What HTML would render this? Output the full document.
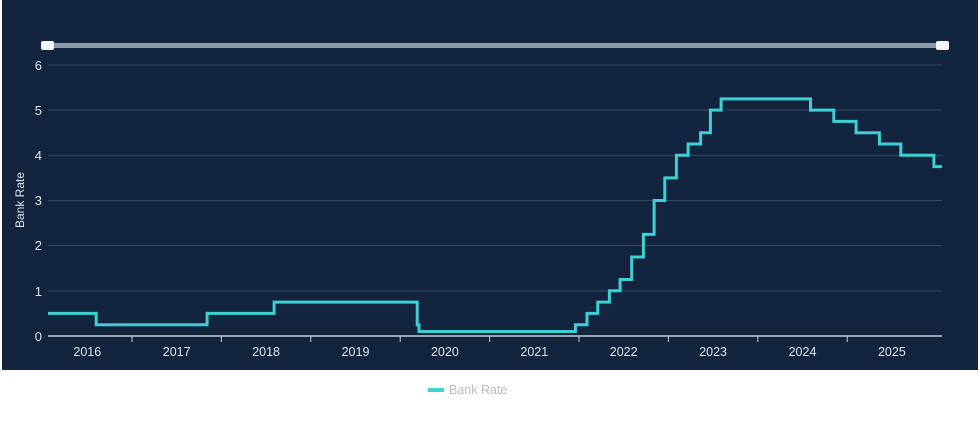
<!DOCTYPE html>
<html><head><meta charset="utf-8"><style>
body{margin:0;background:#fff;width:980px;height:419px;overflow:hidden;font-family:"Liberation Sans",sans-serif}
</style></head><body>
<svg width="980" height="419" xmlns="http://www.w3.org/2000/svg" font-family="Liberation Sans, sans-serif">
<rect x="2" y="0" width="976" height="370" fill="#13253e"/>
<rect x="48" y="43" width="894" height="5" fill="#8c99a6"/>
<rect x="41" y="41" width="13" height="9" rx="2" fill="#f4f6f8"/>
<rect x="936" y="41" width="13" height="9" rx="2" fill="#f4f6f8"/>
<g stroke="#33475f" stroke-width="1">
<line x1="48" x2="942" y1="65" y2="65"/><line x1="48" x2="942" y1="110" y2="110"/>
<line x1="48" x2="942" y1="155.5" y2="155.5"/><line x1="48" x2="942" y1="200.5" y2="200.5"/>
<line x1="48" x2="942" y1="245.5" y2="245.5"/><line x1="48" x2="942" y1="291" y2="291"/>
</g>
<line x1="48" x2="942" y1="336" y2="336" stroke="#c8ced6" stroke-width="1.5"/>
<g id="ticks" stroke="#c8ced6" stroke-width="1"></g>
<g fill="#dfe4ea" font-size="13" text-anchor="end">
<text x="42" y="70">6</text><text x="42" y="115">5</text><text x="42" y="160">4</text>
<text x="42" y="205">3</text><text x="42" y="250">2</text><text x="42" y="296">1</text><text x="42" y="341">0</text>
</g>
<text transform="translate(24,200) rotate(-90)" fill="#dfe4ea" font-size="12" text-anchor="middle">Bank Rate</text>
<g id="xl" fill="#dfe4ea" font-size="12.5" text-anchor="middle"></g>
<path id="ln" fill="none" stroke="#3dd0d6" stroke-width="3" stroke-linejoin="miter"/>
<rect x="428" y="388" width="16" height="4" fill="#3dd0d6"/>
<text x="449" y="394" fill="#b8bcc0" font-size="12.5">Bank Rate</text>
</svg>
<script>
var X=function(t){return 132+(t-2017)*89.4},Y=function(v){return 336-v*45.17};
var s=[[2016.06,0.5],[2016.6,0.25],[2017.84,0.5],[2018.59,0.75],[2020.19,0.25],[2020.21,0.1],[2021.96,0.25],[2022.09,0.5],[2022.21,0.75],[2022.34,1],[2022.46,1.25],[2022.59,1.75],[2022.72,2.25],[2022.84,3],[2022.96,3.5],[2023.09,4],[2023.22,4.25],[2023.36,4.5],[2023.47,5],[2023.59,5.25],[2024.59,5],[2024.85,4.75],[2025.1,4.5],[2025.36,4.25],[2025.6,4],[2025.97,3.75]];
var d="M48,"+Y(0.5);
for(var i=1;i<s.length;i++){d+=" H"+X(s[i][0]).toFixed(1)+" V"+Y(s[i][1]).toFixed(1);}
d+=" H942";
document.getElementById("ln").setAttribute("d",d);
var tk="",xl="";
for(var y=2017;y<=2025;y++){var x=X(y);tk+='<line x1="'+x+'" x2="'+x+'" y1="336" y2="342"/>';}
for(var y=2016;y<=2025;y++){xl+='<text x="'+X(y+0.5)+'" y="356">'+y+'</text>';}
document.getElementById("ticks").innerHTML=tk;document.getElementById("xl").innerHTML=xl;
</script>
</body></html>
